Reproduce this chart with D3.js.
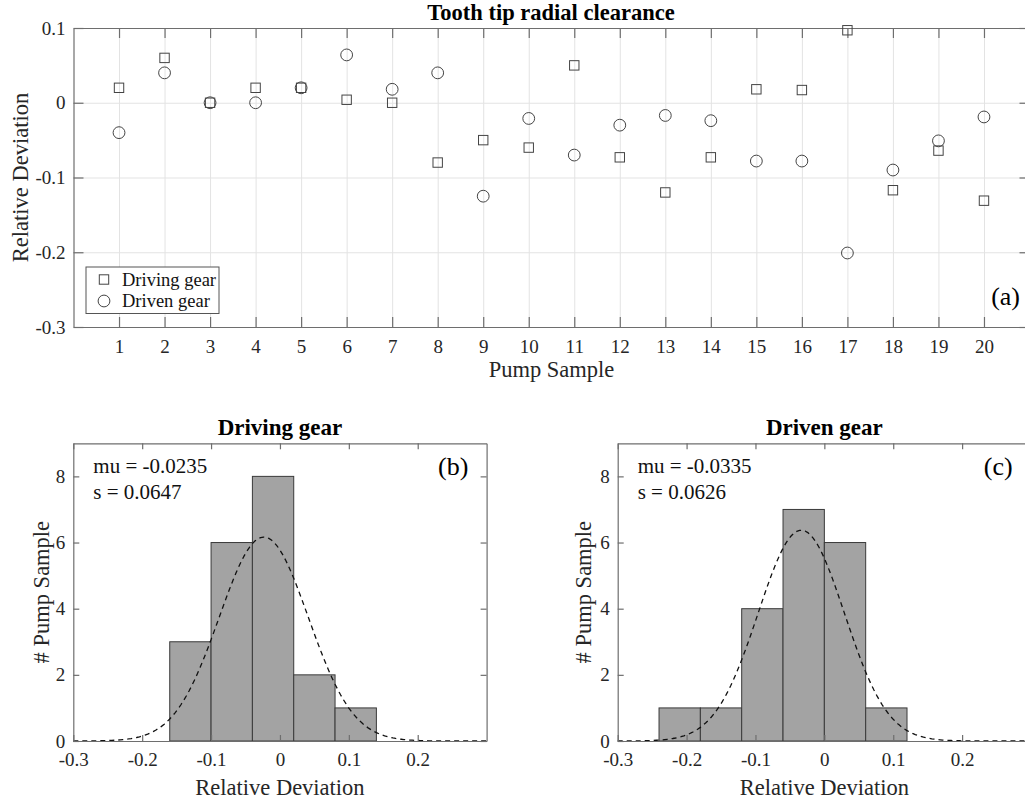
<!DOCTYPE html>
<html>
<head>
<meta charset="utf-8">
<script src="https://cdn.jsdelivr.net/npm/d3@7"></script>
<style>
	body { margin: 0; background: #fff; }
	svg { display: block; font-family: "Liberation Serif", "Times New Roman", serif; }
	.axis path, .axis line { stroke: #6e6e6e; stroke-width: 1.2; }
	.grid line { stroke: #e3e3e3; stroke-width: 1; }
	.grid path { display: none; }
</style>
</head>
<body>
<div id="graphic"></div>
<script>
// pump samples and relative deviation of the tooth tip radial clearance
const pumpSamples = d3.range(1, 21);
const drivingGear = [0.02, 0.06, 0, 0.02, 0.02, 0.004, 0, -0.08, -0.05, -0.06, 0.05, -0.073, -0.12, -0.073, 0.018, 0.017, 0.097, -0.117, -0.064, -0.131];
const drivenGear = [-0.04, 0.04, 0, 0, 0.02, 0.064, 0.018, 0.04, -0.125, -0.021, -0.07, -0.03, -0.017, -0.024, -0.078, -0.078, -0.201, -0.09, -0.051, -0.019];

// histogram bins (b) and (c)
const drivingBinEdges = [-0.16, -0.10, -0.04, 0.02, 0.08, 0.14];
const drivingCounts = [3, 6, 8, 2, 1];
const drivenBinEdges = [-0.24, -0.18, -0.12, -0.06, 0, 0.06, 0.12];
const drivenCounts = [1, 1, 4, 7, 6, 1];

// fitted normal distributions
const drivingFit = { mu: -0.0235, s: 0.0647 };
const drivenFit = { mu: -0.0335, s: 0.0626 };

// tick labels
const scatterYTicks = [0.1, 0, -0.1, -0.2, -0.3];
const histXTicks = [-0.3, -0.2, -0.1, 0, 0.1, 0.2];
const histYTicks = [0, 2, 4, 6, 8];

const font = '"Liberation Serif", "Times New Roman", serif';

// plain hyphen minus, like the original figure
const fmt = (d) => String(d);

let svg = d3.select('#graphic')
	.append('svg')
	.attr('width', 1025)
	.attr('height', 800);

// d3 axes set a sans-serif font on their group, so put the serif back on the labels
function styleAxis(sel) {
	sel.attr('font-family', font)
		.selectAll('text')
		.attr('font-family', font)
		.attr('font-size', 19)
		.attr('fill', '#262626');
}

function drawScatter() {
	const left = 73.5, right = 1029.5, top = 28, bottom = 327;

	const x = d3.scaleLinear().domain([0, 21]).range([left, right]);
	const y = d3.scaleLinear().domain([-0.3, 0.1]).range([bottom, top]);

	let g = svg.append('g');

	// grid lines
	g.append('g')
		.attr('class', 'grid')
		.attr('transform', `translate(0,${bottom})`)
		.call(d3.axisBottom(x).tickValues(pumpSamples).tickSize(-(bottom - top)).tickFormat(''));

	g.append('g')
		.attr('class', 'grid')
		.attr('transform', `translate(${left},0)`)
		.call(d3.axisLeft(y).tickValues(scatterYTicks).tickSize(-(right - left)).tickFormat(''));

	// axes with inward ticks, box on
	g.append('g')
		.attr('class', 'axis')
		.attr('transform', `translate(0,${bottom})`)
		.call(d3.axisBottom(x).tickValues(pumpSamples).tickSizeInner(-10).tickSizeOuter(0).tickPadding(12.5).tickFormat(fmt))
		.call(styleAxis);

	g.append('g')
		.attr('class', 'axis')
		.attr('transform', `translate(0,${top})`)
		.call(d3.axisTop(x).tickValues(pumpSamples).tickSizeInner(-10).tickSizeOuter(0).tickFormat(''));

	g.append('g')
		.attr('class', 'axis')
		.attr('transform', `translate(${left},0)`)
		.call(d3.axisLeft(y).tickValues(scatterYTicks).tickSizeInner(-10).tickSizeOuter(0).tickPadding(8).tickFormat(fmt))
		.call(styleAxis);

	g.append('g')
		.attr('class', 'axis')
		.attr('transform', `translate(${right},0)`)
		.call(d3.axisRight(y).tickValues(scatterYTicks).tickSizeInner(-10).tickSizeOuter(0).tickFormat(''));

	// driving gear squares
	g.append('g')
		.selectAll('rect')
		.data(drivingGear)
		.join('rect')
		.attr('x', (d, i) => x(pumpSamples[i]) - 4.7)
		.attr('y', (d) => y(d) - 4.7)
		.attr('width', 9.4)
		.attr('height', 9.4)
		.attr('fill', 'none')
		.attr('stroke', '#444')
		.attr('stroke-width', 1);

	// driven gear circles
	g.append('g')
		.selectAll('circle')
		.data(drivenGear)
		.join('circle')
		.attr('cx', (d, i) => x(pumpSamples[i]))
		.attr('cy', (d) => y(d))
		.attr('r', 5.9)
		.attr('fill', 'none')
		.attr('stroke', '#444')
		.attr('stroke-width', 1);

	// legend
	let legend = g.append('g').attr('transform', 'translate(86,267)');
	legend.append('rect')
		.attr('width', 133)
		.attr('height', 46.5)
		.attr('fill', '#fff')
		.attr('stroke', '#555')
		.attr('stroke-width', 1);
	legend.append('rect')
		.attr('x', 18 - 4.7).attr('y', 12.5 - 4.7)
		.attr('width', 9.4).attr('height', 9.4)
		.attr('fill', 'none').attr('stroke', '#444');
	legend.append('circle')
		.attr('cx', 18).attr('cy', 34)
		.attr('r', 5.9)
		.attr('fill', 'none').attr('stroke', '#444');
	legend.selectAll('text')
		.data(['Driving gear', 'Driven gear'])
		.join('text')
		.attr('x', 36)
		.attr('y', (d, i) => 18.5 + i * 21.5)
		.attr('font-size', 18.5)
		.attr('fill', '#111')
		.text((d) => d);

	// title and labels
	g.append('text')
		.attr('x', (left + right) / 2 - 0.5)
		.attr('y', 20)
		.attr('text-anchor', 'middle')
		.attr('font-weight', 'bold')
		.attr('font-size', 22.5)
		.text('Tooth tip radial clearance');

	g.append('text')
		.attr('x', (left + right) / 2)
		.attr('y', 377)
		.attr('text-anchor', 'middle')
		.attr('font-size', 22.5)
		.attr('fill', '#262626')
		.text('Pump Sample');

	g.append('text')
		.attr('transform', `translate(28,${(top + bottom) / 2}) rotate(-90)`)
		.attr('text-anchor', 'middle')
		.attr('font-size', 22.5)
		.attr('fill', '#262626')
		.text('Relative Deviation');

	g.append('text')
		.attr('x', 1020)
		.attr('y', 305)
		.attr('text-anchor', 'end')
		.attr('font-size', 26)
		.text('(a)');
}

function drawHistogram({ left, edges, counts, fit, title, tag, yLabelX }) {
	const width = 413.3, top = 443.3, bottom = 741;
	const right = left + width;

	const x = d3.scaleLinear().domain([-0.3, 0.3]).range([left, right]);
	const y = d3.scaleLinear().domain([0, 9]).range([bottom, top]);

	let g = svg.append('g');

	// bars
	let bins = counts.map((c, i) => ({ x0: edges[i], x1: edges[i + 1], count: c }));
	g.append('g')
		.selectAll('rect')
		.data(bins)
		.join('rect')
		.attr('x', (d) => x(d.x0))
		.attr('y', (d) => y(d.count))
		.attr('width', (d) => x(d.x1) - x(d.x0))
		.attr('height', (d) => y(0) - y(d.count))
		.attr('fill', '#a3a3a3')
		.attr('stroke', '#3a3a3a')
		.attr('stroke-width', 1);

	// fitted normal curve, scaled to the histogram
	const pdf = (v) => Math.exp(-0.5 * ((v - fit.mu) / fit.s) ** 2) / (fit.s * Math.sqrt(2 * Math.PI));
	const xs = d3.range(-0.3, 0.3001, 0.004);
	g.append('path')
		.datum(xs)
		.attr('fill', 'none')
		.attr('stroke', '#111')
		.attr('stroke-width', 1.3)
		.attr('stroke-dasharray', '5,4')
		.attr('d', d3.line().x((d) => x(d)).y((d) => y(pdf(d))));

	// axes
	g.append('g')
		.attr('class', 'axis')
		.attr('transform', `translate(0,${bottom})`)
		.call(d3.axisBottom(x).tickValues(histXTicks).tickSizeInner(-6).tickSizeOuter(0).tickPadding(12).tickFormat(fmt))
		.call(styleAxis);

	g.append('g')
		.attr('class', 'axis')
		.attr('transform', `translate(0,${top})`)
		.call(d3.axisTop(x).tickValues(histXTicks).tickSizeInner(-6).tickSizeOuter(0).tickFormat(''));

	g.append('g')
		.attr('class', 'axis')
		.attr('transform', `translate(${left},0)`)
		.call(d3.axisLeft(y).tickValues(histYTicks).tickSizeInner(-6).tickSizeOuter(0).tickPadding(8).tickFormat(fmt))
		.call(styleAxis);

	g.append('g')
		.attr('class', 'axis')
		.attr('transform', `translate(${right},0)`)
		.call(d3.axisRight(y).tickValues(histYTicks).tickSizeInner(-6).tickSizeOuter(0).tickFormat(''));

	// texts
	g.append('text')
		.attr('x', left + width / 2)
		.attr('y', 435)
		.attr('text-anchor', 'middle')
		.attr('font-weight', 'bold')
		.attr('font-size', 23)
		.text(title);

	g.append('text')
		.attr('x', left + width / 2)
		.attr('y', 795)
		.attr('text-anchor', 'middle')
		.attr('font-size', 22.5)
		.attr('fill', '#262626')
		.text('Relative Deviation');

	g.append('text')
		.attr('transform', `translate(${yLabelX},${(top + bottom) / 2}) rotate(-90)`)
		.attr('text-anchor', 'middle')
		.attr('font-size', 22.5)
		.attr('fill', '#262626')
		.text('# Pump Sample');

	g.selectAll('.stat')
		.data([`mu = ${fit.mu}`, `s = ${fit.s}`])
		.join('text')
		.attr('class', 'stat')
		.attr('x', left + 20)
		.attr('y', (d, i) => 472.5 + i * 26)
		.attr('font-size', 21)
		.attr('fill', '#111')
		.text((d) => d);

	g.append('text')
		.attr('x', left + 395)
		.attr('y', 475)
		.attr('text-anchor', 'end')
		.attr('font-size', 26)
		.text(tag);
}

drawScatter();

drawHistogram({
	left: 73.3,
	edges: drivingBinEdges,
	counts: drivingCounts,
	fit: drivingFit,
	title: 'Driving gear',
	tag: '(b)',
	yLabelX: 49
});

drawHistogram({
	left: 617.7,
	edges: drivenBinEdges,
	counts: drivenCounts,
	fit: drivenFit,
	title: 'Driven gear',
	tag: '(c)',
	yLabelX: 591
});
</script>
</body>
</html>
